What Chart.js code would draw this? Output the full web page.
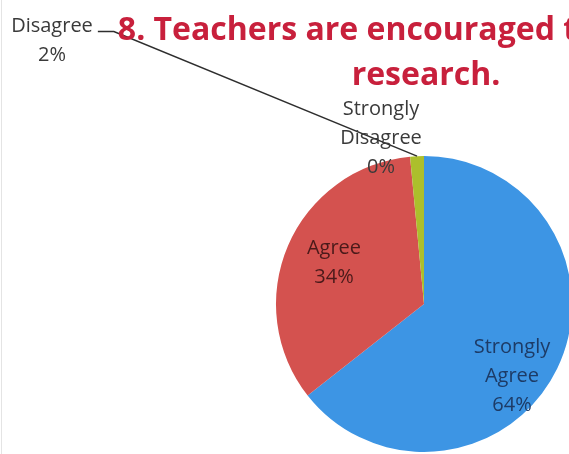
<!DOCTYPE html>
<html>
<head>
<meta charset="utf-8">
<title>Teachers are encouraged to conduct research</title>
<script src="https://cdn.jsdelivr.net/npm/chart.js@4.4.1/dist/chart.umd.min.js"></script>
<style>
  html, body { margin: 0; padding: 0; background: #fff; }
  #wrap { position: relative; width: 569px; height: 454px; overflow: hidden; background: #fff; }
  #edge { position: absolute; left: 1px; top: 0; width: 1px; height: 454px; background: #e4e4e4; }
  #pie-chart { position: absolute; left: 0; top: 0; }
  #title {
    position: absolute; left: -74px; top: 5px; width: 1000px;
    text-align: center; white-space: nowrap;
    font-family: "Open Sans", sans-serif; font-weight: bold;
    font-size: 32px; line-height: 45px; color: #c8203c;
  }
</style>
</head>
<body>
<div id="wrap">
  <div id="edge"></div>
  <canvas id="pie-chart" width="600" height="454"></canvas>
  <div id="title">8. Teachers are encouraged to conduct<br>research.</div>
</div>
<script>
// values (percent of answers)
const categories = ['Strongly Agree', 'Agree', 'Disagree', 'Strongly Disagree'];
const shares = [64.4, 34.1, 1.5, 0];

// styling, kept apart from the data
const sliceColors = ['#3d95e4', '#d4524f', '#acbf2c', '#7a7a7a'];
const labelColors = ['#1d3b66', '#4a1a1a', '#3a3a3a', '#3a3a3a'];
// label block centre, relative to the pie centre
const labelOffsets = [[88, 71], [-90, -43], [-372, -265], [-43, -167]];
const leaderIndex = 2;

const chartLib = {
    init() {
        const ctx = document.getElementById('pie-chart');
        this.drawPieGraph(ctx);
    },
    // data labels drawn from the arc elements
    labelPlugin: {
        id: 'pieLabels',
        afterDatasetsDraw(chart) {
            const ctx = chart.ctx;
            const arcs = chart.getDatasetMeta(0).data;
            const lineH = 29;
            ctx.save();
            ctx.font = '20px "Open Sans", sans-serif';
            ctx.textAlign = 'center';
            ctx.textBaseline = 'alphabetic';

            arcs.forEach((arc, i) => {
                const {x, y, startAngle, endAngle, outerRadius} =
                    arc.getProps(['x', 'y', 'startAngle', 'endAngle', 'outerRadius'], true);
                const lines = categories[i].split(' ');
                lines.push(Math.round(shares[i]) + '%');
                const cx = x + labelOffsets[i][0];
                const cy = y + labelOffsets[i][1];
                const firstBase = cy - (lines.length - 1) * lineH / 2 + 7;

                if (i === leaderIndex) {
                    const mid = (startAngle + endAngle) / 2;
                    const half = ctx.measureText(lines[0]).width / 2;
                    const sx = cx + half + 5;
                    ctx.strokeStyle = '#2e2e2e';
                    ctx.lineWidth = 1.5;
                    ctx.beginPath();
                    ctx.moveTo(sx, firstBase);
                    ctx.lineTo(sx + 16, firstBase);
                    ctx.lineTo(x + Math.cos(mid) * outerRadius, y + Math.sin(mid) * outerRadius);
                    ctx.stroke();
                }

                ctx.fillStyle = labelColors[i];
                lines.forEach((t, k) => ctx.fillText(t, cx, firstBase + k * lineH));
            });
            ctx.restore();
        }
    },
    drawPieGraph(ctx) {
        new Chart(ctx, {
            type: 'pie',
            data: {
                labels: categories,
                datasets: [{
                    data: shares,
                    backgroundColor: sliceColors,
                    borderWidth: 0
                }]
            },
            options: {
                responsive: false,
                animation: false,
                layout: {
                    padding: {left: 276, top: 156, right: 28, bottom: 2}
                },
                plugins: {
                    legend: {display: false},
                    tooltip: {enabled: false}
                }
            },
            plugins: [this.labelPlugin]
        });
    }
};

window.addEventListener('DOMContentLoaded', function() {
    chartLib.init();
});
</script>
</body>
</html>
